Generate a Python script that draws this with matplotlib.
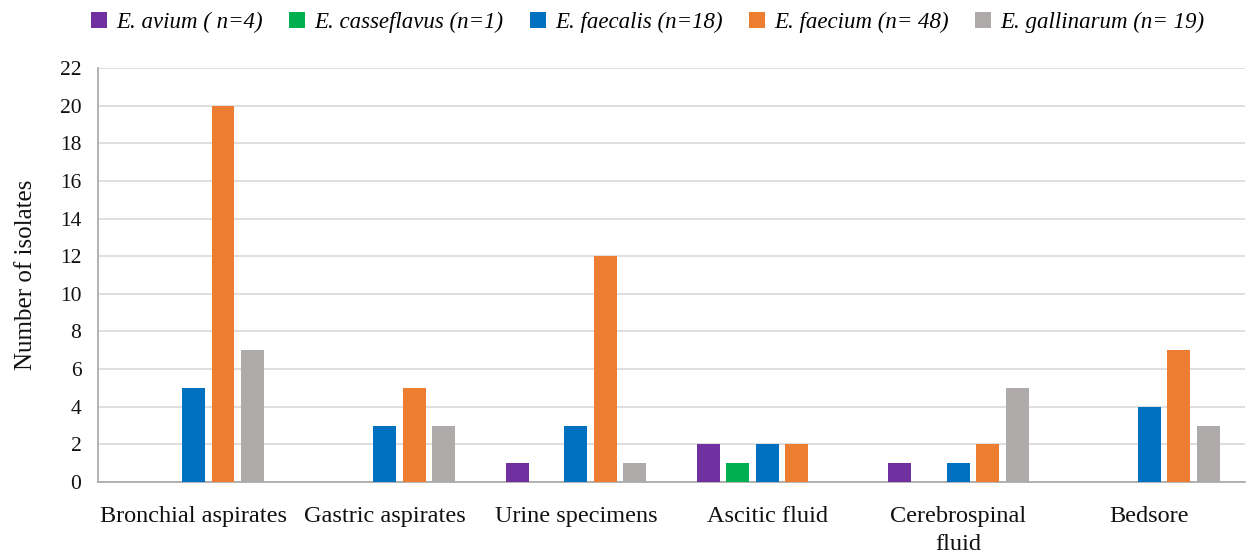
import numpy as np
import matplotlib
matplotlib.use("Agg")
import matplotlib.pyplot as plt

categories = ["Bronchial aspirates", "Gastric aspirates", "Urine specimens",
              "Ascitic fluid", "Cerebrospinal\nfluid", "Bedsore"]
series_names = ["E. avium ( n=4)", "E. casseflavus (n=1)", "E. faecalis (n=18)",
                "E. faecium (n= 48)", "E. gallinarum (n= 19)"]
avium = [0, 0, 1, 2, 1, 0]
casseflavus = [0, 0, 0, 1, 0, 0]
faecalis = [5, 3, 3, 2, 1, 4]
faecium = [20, 5, 12, 2, 2, 7]
gallinarum = [7, 3, 1, 0, 5, 3]
colors = ["#7030A0", "#00B050", "#0070C0", "#ED7D31", "#AEAAAA"]

plt.rcParams["font.family"] = ["Liberation Serif", "DejaVu Serif"]

fig = plt.figure(figsize=(12.53, 5.6), dpi=100)
ax = fig.add_axes([98 / 1253, 1 - 482 / 560, (1245 - 98) / 1253, (482 - 68) / 560])

x = np.arange(len(categories))
slot = 0.154
width = 0.12
handles = []
for i, (vals, name, c) in enumerate(zip([avium, casseflavus, faecalis, faecium, gallinarum],
                                         series_names, colors)):
    b = ax.bar(x + (i - 2) * slot, vals, width, color=c, label=name, zorder=3)
    handles.append(b)

ax.set_xlim(-0.5, len(categories) - 0.5)
ax.set_ylim(0, 22)
ax.set_yticks(range(0, 23, 2))
ax.set_xticks(x)
ax.set_xticklabels(categories, fontsize=17.5, color="#111111", linespacing=1.45)
ax.tick_params(axis="y", labelsize=15.5, length=0, pad=12, colors="#111111")
ax.tick_params(axis="x", length=0, pad=17)
ax.grid(axis="y", color="#D9D9D9", linewidth=1.2, zorder=0)
for s in ["top", "right"]:
    ax.spines[s].set_visible(False)
for s in ["left", "bottom"]:
    ax.spines[s].set_color("#A6A6A6")
    ax.spines[s].set_linewidth(1.2)
ax.set_ylabel("Number of isolates", fontsize=18, labelpad=16, color="#111111")

fig.legend(handles=handles, loc="upper center", bbox_to_anchor=(0.517, 1.015), ncol=5,
           frameon=False, prop={"style": "italic", "size": 16.5},
           handlelength=0.7, handleheight=0.7, handletextpad=0.4, columnspacing=1.15)

fig.savefig("out.png", dpi=100)
